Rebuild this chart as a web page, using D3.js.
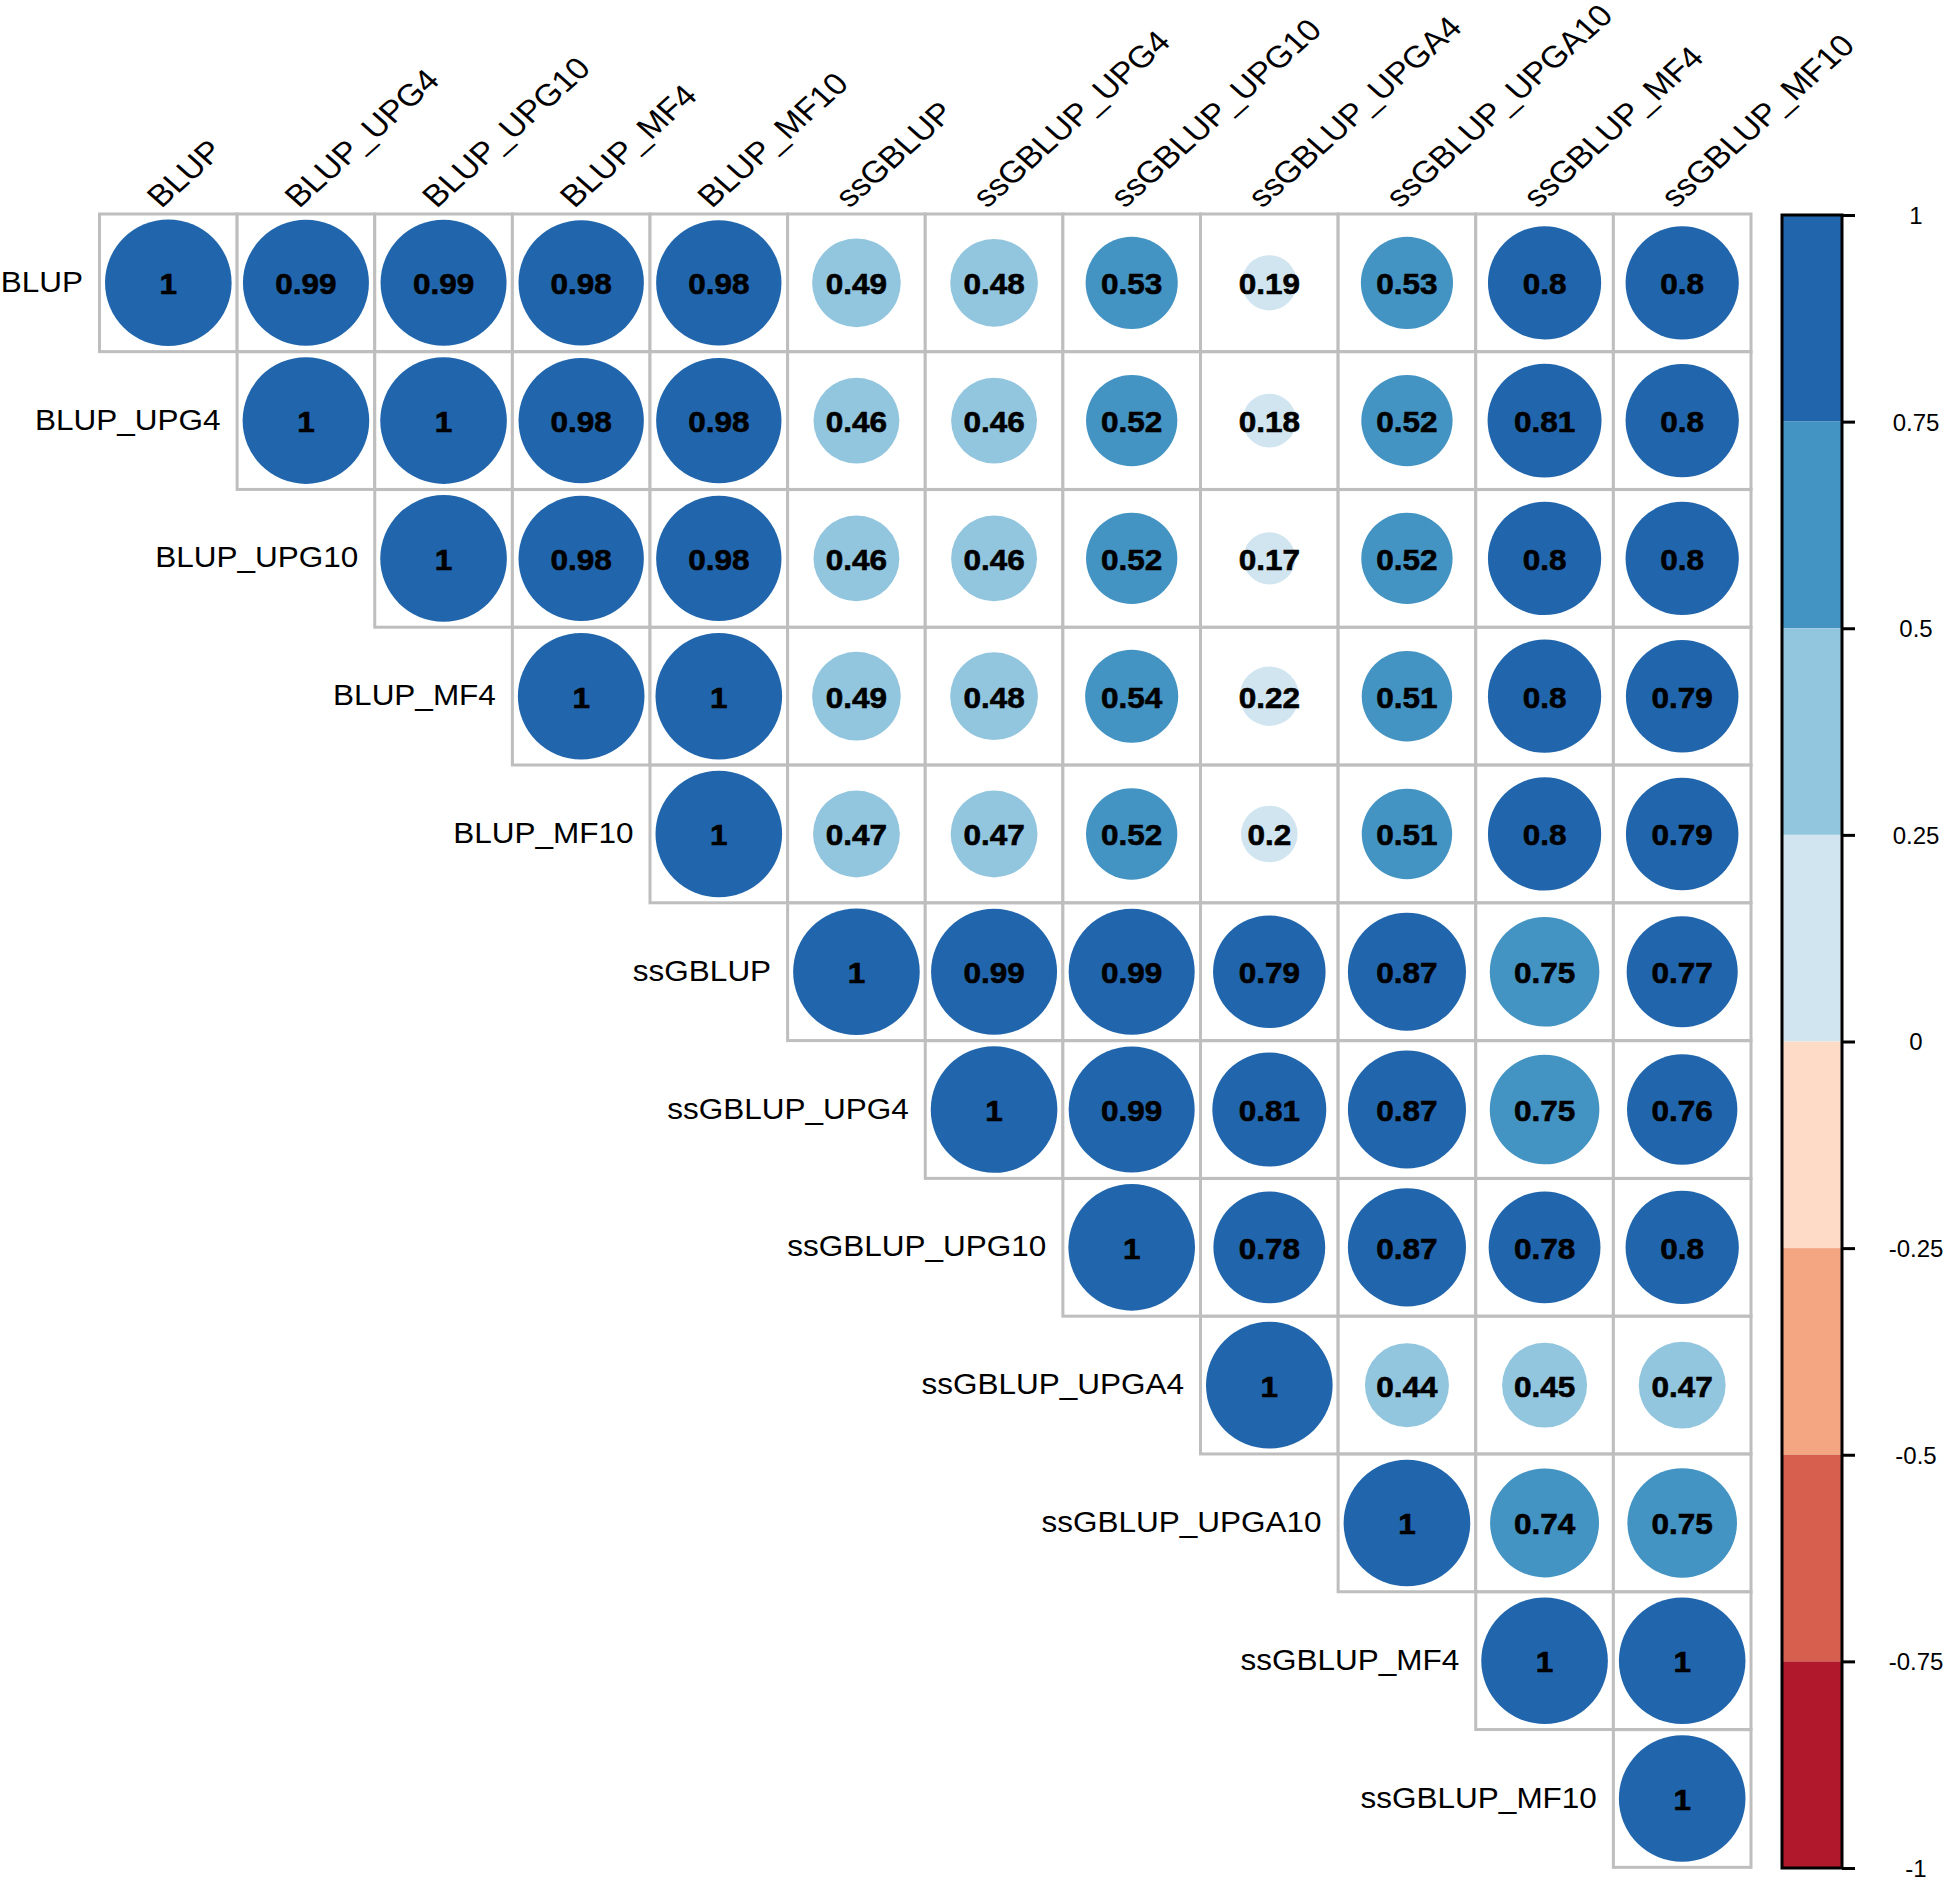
<!DOCTYPE html>
<html>
<head>
<meta charset="utf-8">
<script src="https://cdn.jsdelivr.net/npm/d3@7"></script>
<style>
  body { margin: 0; background: #fff; }
  svg text { font-family: "Liberation Sans", Arial, Helvetica, sans-serif; }
</style>
</head>
<body>
<div class="vizcontainer"></div>
<script>
const labels = ["BLUP", "BLUP_UPG4", "BLUP_UPG10", "BLUP_MF4", "BLUP_MF10",
  "ssGBLUP", "ssGBLUP_UPG4", "ssGBLUP_UPG10", "ssGBLUP_UPGA4", "ssGBLUP_UPGA10",
  "ssGBLUP_MF4", "ssGBLUP_MF10"];

// upper triangle, each row starts at the diagonal
const rowBLUP      = [1, 0.99, 0.99, 0.98, 0.98, 0.49, 0.48, 0.53, 0.19, 0.53, 0.8, 0.8];
const rowBLUP_UPG4 = [1, 1, 0.98, 0.98, 0.46, 0.46, 0.52, 0.18, 0.52, 0.81, 0.8];
const rowBLUP_UPG10 = [1, 0.98, 0.98, 0.46, 0.46, 0.52, 0.17, 0.52, 0.8, 0.8];
const rowBLUP_MF4  = [1, 1, 0.49, 0.48, 0.54, 0.22, 0.51, 0.8, 0.79];
const rowBLUP_MF10 = [1, 0.47, 0.47, 0.52, 0.2, 0.51, 0.8, 0.79];
const rowSS        = [1, 0.99, 0.99, 0.79, 0.87, 0.749, 0.77];
const rowSS_UPG4   = [1, 0.99, 0.81, 0.87, 0.749, 0.76];
const rowSS_UPG10  = [1, 0.78, 0.87, 0.78, 0.8];
const rowSS_UPGA4  = [1, 0.44, 0.45, 0.47];
const rowSS_UPGA10 = [1, 0.74, 0.749];
const rowSS_MF4    = [1, 1];
const rowSS_MF10   = [1];

const corrRows = [rowBLUP, rowBLUP_UPG4, rowBLUP_UPG10, rowBLUP_MF4, rowBLUP_MF10,
  rowSS, rowSS_UPG4, rowSS_UPG10, rowSS_UPGA4, rowSS_UPGA10, rowSS_MF4, rowSS_MF10];

const barTicks = [1, 0.75, 0.5, 0.25, 0, -0.25, -0.5, -0.75, -1];

const W = 1950, H = 1882;
const grid = ({ left: 99.5, right: 1751, top: 214, bottom: 1867.5 });

var cells = [];
corrRows.forEach((row, i) => row.forEach((v, k) => {
  cells.push({ r: labels[i], c: labels[i + k], v: v });
}));

var svg = d3.select(".vizcontainer")
  .append("svg")
  .attr("width", W)
  .attr("height", H);

var x = d3.scaleBand().domain(labels).range([grid.left, grid.right]);
var y = d3.scaleBand().domain(labels).range([grid.top, grid.bottom]);
var cw = x.bandwidth();

var color = d3.scaleThreshold()
  .domain([-0.75, -0.5, -0.25, 0, 0.25, 0.5, 0.75])
  .range(d3.schemeRdBu[8]);

var fmt = v => String(Math.round(v * 100) / 100);

// cell borders
svg.append("g")
  .selectAll("rect")
  .data(cells)
  .enter()
  .append("rect")
  .attr("x", d => x(d.c))
  .attr("y", d => y(d.r))
  .attr("width", cw)
  .attr("height", cw)
  .style("fill", "#fff")
  .style("stroke", "#bebebe")
  .style("stroke-width", 3);

svg.append("g")
  .selectAll("circle")
  .data(cells)
  .enter()
  .append("circle")
  .attr("cx", d => x(d.c) + cw / 2)
  .attr("cy", d => y(d.r) + cw / 2)
  .attr("r", d => 0.46 * Math.sqrt(Math.abs(d.v)) * cw)
  .style("fill", d => color(d.v));

svg.append("g")
  .selectAll("text")
  .data(cells)
  .enter()
  .append("text")
  .attr("transform", d => "translate(" + (x(d.c) + cw / 2) + "," + (y(d.r) + cw / 2 + 11.5) + ") scale(1.05,1)")
  .attr("text-anchor", "middle")
  .style("font-size", "30px")
  .style("font-weight", "bold")
  .style("stroke", "#000")
  .style("stroke-width", 0.6)
  .text(d => fmt(d.v));

// row labels
svg.append("g")
  .selectAll("text")
  .data(labels)
  .enter()
  .append("text")
  .attr("transform", d => "translate(" + (x(d) - 16.5) + "," + (y(d) + cw / 2 + 9) + ") scale(1.05,1)")
  .attr("text-anchor", "end")
  .style("font-size", "30px")
  .text(d => d);

// column labels
svg.append("g")
  .selectAll("text")
  .data(labels)
  .enter()
  .append("text")
  .attr("transform", d => "translate(" + (x(d) + cw / 2 - 7) + "," + (grid.top - 5) + ") scale(1.12,1) rotate(-45)")
  .style("font-size", "30.5px")
  .text(d => d);

// colour bar
var bar = ({ x: 1782, w: 60 });
var by = d3.scaleLinear().domain([-1, 1]).range([1868, 215]);

var bins = d3.range(barTicks.length - 1).map(i => [barTicks[i + 1], barTicks[i]]);

svg.append("g")
  .selectAll("rect")
  .data(bins)
  .enter()
  .append("rect")
  .attr("x", bar.x)
  .attr("y", d => by(d[1]))
  .attr("width", bar.w)
  .attr("height", d => by(d[0]) - by(d[1]))
  .style("fill", d => color((d[0] + d[1]) / 2));

svg.append("rect")
  .attr("x", bar.x)
  .attr("y", by(1))
  .attr("width", bar.w)
  .attr("height", by(-1) - by(1))
  .style("fill", "none")
  .style("stroke", "#000")
  .style("stroke-width", 3);

var barAxis = svg.append("g")
  .attr("transform", "translate(" + (bar.x + bar.w) + ",0)")
  .call(d3.axisRight(by).tickValues(barTicks).tickSize(13).tickFormat(d => String(d)));

barAxis.select(".domain").remove();
barAxis.selectAll("line").style("stroke", "#000").style("stroke-width", 3);
barAxis.selectAll("text")
  .attr("x", 74)
  .attr("dy", "0.35em")
  .attr("text-anchor", "middle")
  .style("font-family", "'Liberation Sans', Arial, sans-serif")
  .style("font-size", "24px")
  .style("fill", "#000");
</script>
</body>
</html>
